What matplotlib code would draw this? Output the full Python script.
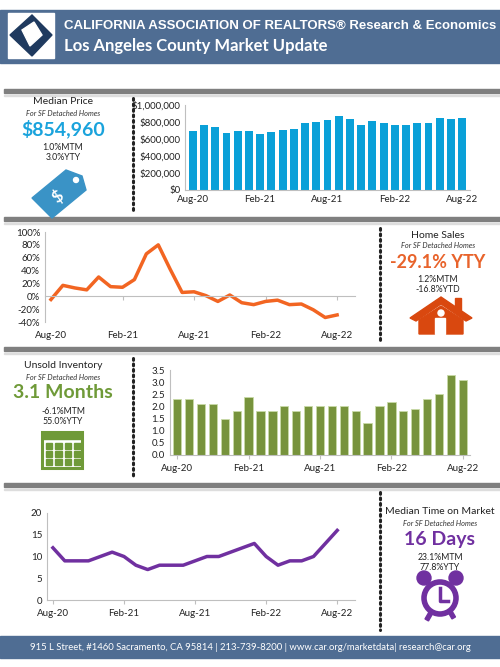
import matplotlib
matplotlib.use('Agg')
import matplotlib.pyplot as plt
from matplotlib.patches import Rectangle, Polygon, Circle
from matplotlib.ticker import FuncFormatter

months = ['Aug-20', 'Sep-20', 'Oct-20', 'Nov-20', 'Dec-20', 'Jan-21', 'Feb-21', 'Mar-21',
          'Apr-21', 'May-21', 'Jun-21', 'Jul-21', 'Aug-21', 'Sep-21', 'Oct-21', 'Nov-21',
          'Dec-21', 'Jan-22', 'Feb-22', 'Mar-22', 'Apr-22', 'May-22', 'Jun-22', 'Jul-22', 'Aug-22']
median_price = [690000, 760000, 740000, 670000, 700000, 690000, 655000, 680000, 710000, 720000,
                790000, 800000, 820000, 870000, 840000, 760000, 815000, 790000, 760000, 770000,
                790000, 790000, 850000, 835000, 845000]
sales_yty = [-5, 17, 13, 10, 30, 15, 14, 26, 66, 80, 42, 6, 7, 1, -8, 2, -10, -13, -8, -6,
             -13, -12, -21, -33, -29]
inventory = [2.3, 2.3, 2.1, 2.1, 1.5, 1.8, 2.4, 1.8, 1.8, 2.0, 1.8, 2.0, 2.0, 2.0, 2.0, 1.8,
             1.3, 2.0, 2.2, 1.8, 1.9, 2.3, 2.5, 3.3, 3.1]
days_on_market = [12, 9, 9, 9, 10, 11, 10, 8, 7, 8, 8, 8, 9, 10, 10, 11, 12, 13, 10, 8, 9, 9,
                  10, 13, 16]
tick_idx = [0, 6, 12, 18, 24]

W, H = 500, 667
plt.rcParams['font.family'] = ['Lato', 'DejaVu Sans']

fig = plt.figure(figsize=(5, 6.67), dpi=100)


def box(x0, y0, x1, y1):
    # pixel box (top-left origin) -> figure rect
    return [x0 / W, 1 - y1 / H, (x1 - x0) / W, (y1 - y0) / H]


bg = fig.add_axes([0, 0, 1, 1])
bg.set_xlim(0, W)
bg.set_ylim(H, 0)
bg.axis('off')

# header and footer
blue = '#4f6d93'
bg.add_patch(Rectangle((0, 10), W, 53, color=blue))
bg.add_patch(Rectangle((8, 13), 46, 45, color='white'))
bg.add_patch(Polygon([[10, 35], [32, 15], [52, 35], [32, 56]], color='#1f3a5f'))
bg.add_patch(Polygon([[22, 30], [34, 22], [42, 35], [30, 46]], color='white'))
bg.text(64, 26, 'CALIFORNIA ASSOCIATION OF REALTORS® Research & Economics', color='white',
        fontsize=9.5, fontweight='bold', va='center', family='Liberation Sans')
bg.text(64, 46, 'Los Angeles County Market Update', color='white', fontsize=12,
        fontweight='bold', va='center')
bg.add_patch(Rectangle((0, 636), W, 22, color=blue))
bg.text(W / 2, 647, '915 L Street, #1460 Sacramento, CA 95814 | 213-739-8200 | www.car.org/marketdata| research@car.org',
        color='white', fontsize=6.8, ha='center', va='center')

# separators
for y in [89, 217, 347, 483]:
    bg.add_patch(Rectangle((4, y), W - 4, 4, color='#7f7f7f'))
    bg.add_patch(Rectangle((4, y + 6), W - 4, 1, color='#dddddd'))

# dotted dividers
for x, y0, y1 in [(133, 98, 212), (380, 228, 342), (133, 358, 478), (380, 492, 630)]:
    bg.plot([x, x], [y0, y1], color='#222222', lw=2.2, ls=(0, (0.6, 1.2)),
            dash_capstyle='round')


def stat_block(cx, y, title, value, color, mtm, yty, vsize=14):
    bg.text(cx, y, title, fontsize=7.5, ha='center', va='center', color='#222222')
    bg.text(cx, y + 11, 'For SF Detached Homes', fontsize=5.3, ha='center', va='center',
            style='italic', color='#333333')
    bg.text(cx, y + 27, value, fontsize=vsize, ha='center', va='center', color=color,
            fontweight='bold')
    bg.text(cx, y + 45, mtm, fontsize=6.3, ha='center', va='center', color='#222222')
    bg.text(cx, y + 55, yty, fontsize=6.3, ha='center', va='center', color='#222222')


stat_block(63, 102, 'Median Price', '$854,960', '#1aa3dc', '1.0%MTM', '3.0%YTY')
stat_block(438, 235, 'Home Sales', '-29.1% YTY', '#e8632b', '1.2%MTM', '-16.8%YTD', 13)
stat_block(63, 366, 'Unsold Inventory', '3.1 Months', '#6f9a38', '-6.1%MTM', '55.0%YTY')
stat_block(440, 512, 'Median Time on Market', '16 Days', '#7030a0', '23.1%MTM', '77.8%YTY')

# tag icon
bg.add_patch(Polygon([[32, 198], [66, 170], [82, 176], [86, 190], [52, 218]],
                     color='#3a93c6'))
bg.add_patch(Circle((76, 180), 2.5, color='white'))
bg.text(58, 196, '$', color='white', fontsize=12, fontweight='bold', rotation=40,
        ha='center', va='center')
# house icon
red = '#d9480f'
bg.add_patch(Polygon([[410, 318], [441, 297], [472, 318], [466, 321], [441, 304], [416, 321]],
                     color=red))
bg.add_patch(Rectangle((455, 298), 6, 12, color=red))
bg.add_patch(Polygon([[419, 320], [441, 306], [463, 320], [463, 334], [419, 334]], color=red))
bg.add_patch(Rectangle((435, 318), 10, 16, color='white'))
bg.add_patch(Circle((441, 313), 3, color='white'))
# calendar icon
green = '#6f9a38'
bg.add_patch(Rectangle((42, 432), 40, 36, fill=False, ec=green, lw=2.2))
bg.add_patch(Rectangle((42, 432), 40, 7, color=green))
for i in range(4):
    for j in range(3):
        bg.add_patch(Rectangle((45.5 + i * 9.5, 443 + j * 8), 6.5, 5.5, color=green))
# clock icon
purple = '#7030a0'
bg.add_patch(Rectangle((429, 612), 4, 8, color=purple, angle=30))
bg.add_patch(Rectangle((448, 612), 4, 8, color=purple, angle=-30))
bg.add_patch(Circle((440, 598), 16, fill=False, ec=purple, lw=4))
bg.add_patch(Circle((424, 578), 7, color=purple))
bg.add_patch(Circle((456, 578), 7, color=purple))
bg.plot([440, 440, 448], [588, 601, 601], color=purple, lw=2.5)


def style_axis(ax, xlim):
    for s in ['top', 'right']:
        ax.spines[s].set_visible(False)
    for s in ['left', 'bottom']:
        ax.spines[s].set_color('#bfbfbf')
    ax.set_xlim(*xlim)
    ax.set_xticks(tick_idx)
    ax.set_xticklabels([months[i] for i in tick_idx])
    ax.tick_params(labelsize=7, length=3, color='#bfbfbf', colors='#222222')
    ax.tick_params(axis='y', length=0)


x = list(range(len(months)))

ax1 = fig.add_axes(box(185, 105, 470, 190))
ax1.bar(x, median_price, width=0.7, color='#0aa0d8')
style_axis(ax1, (-0.7, 24.7))
ax1.set_ylim(0, 1000000)
ax1.set_yticks(range(0, 1000001, 200000))
ax1.yaxis.set_major_formatter(FuncFormatter(lambda v, p: '${:,.0f}'.format(v)))
ax1.tick_params(axis='x', length=0)

ax2 = fig.add_axes(box(45, 232, 355, 322))
ax2.plot(x, sales_yty, color='#f26522', lw=2.5)
style_axis(ax2, (-0.5, 25.5))
ax2.set_ylim(-40, 100)
ax2.set_yticks(range(-40, 101, 20))
ax2.yaxis.set_major_formatter(FuncFormatter(lambda v, p: '{:.0f}%'.format(v)))
ax2.spines['bottom'].set_position(('data', 0))
ax2.tick_params(axis='x', pad=22)

ax3 = fig.add_axes(box(170, 370, 470, 455))
ax3.bar(x, inventory, width=0.7, color='#77933c', ec='#c9dba7', lw=0.6)
style_axis(ax3, (-0.6, 24.6))
ax3.set_ylim(0, 3.5)
ax3.set_yticks([0, 0.5, 1, 1.5, 2, 2.5, 3, 3.5])
ax3.yaxis.set_major_formatter(FuncFormatter(lambda v, p: '{:.1f}'.format(v)))

ax4 = fig.add_axes(box(47, 513, 355, 600))
ax4.plot(x, days_on_market, color=purple, lw=2.5)
style_axis(ax4, (-0.5, 25.5))
ax4.set_ylim(0, 20)
ax4.set_yticks(range(0, 21, 5))

fig.savefig('out.png', dpi=100)
